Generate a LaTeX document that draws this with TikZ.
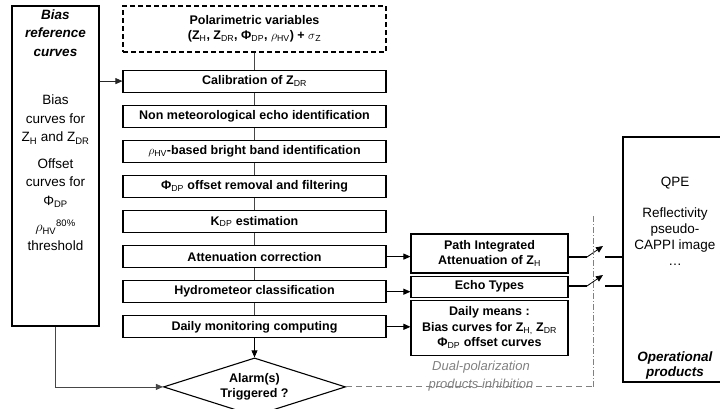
\documentclass[tikz,border=0pt]{standalone}
\usepackage{fontspec}
\setmainfont{Liberation Sans}
\usepackage{tikz}
\usetikzlibrary{positioning,calc,arrows.meta,shapes.geometric}
\tikzstyle{line} = [draw,line width=0.7pt,gray!55!black]
\tikzstyle{arrowline} = [draw,line width=0.8pt,-{Triangle[length=7pt,width=6pt]}]
\newcommand{\bfit}[1]{\textbf{\textit{#1}}}
\newcommand{\lsub}[1]{\textsubscript{\mdseries #1}}

\begin{document}
\begin{tikzpicture}[x=1pt,y=-1pt,node distance=12pt,
    txt/.style = {font=\fontsize{12.5}{15.5}\selectfont\bfseries},
    proc/.style = {draw, line width=1.1pt, minimum width=263pt, minimum height=22pt,
      inner sep=0pt, txt},
    outbox/.style = {draw, line width=1.1pt, minimum width=157pt, inner sep=0pt,
      align=center, txt},
    sidebox/.style = {draw, line width=1.1pt},
    sidetxt/.style = {align=center, inner sep=0pt, font=\fontsize{13.5}{18.5}\selectfont}]
  \useasboundingbox (0,0) rectangle (720,408);
  \node[proc, dash pattern=on 5pt off 3pt, minimum height=46pt, align=center] (polvar) at (254.5,29)
    {Polarimetric variables\\(Z\lsub{H}, Z\lsub{DR}, Φ\lsub{DP}, $\rho$\lsub{HV}) + $\sigma$\lsub{Z}};
  \node[proc] (calib) [below=17pt of polvar] {Calibration of Z\lsub{DR}};
  \node[proc] (nonmet) [below=of calib] {Non meteorological echo identification};
  \node[proc] (brightband) [below=of nonmet] {$\rho$\lsub{HV}-based bright band identification};
  \node[proc] (phidp) [below=of brightband] {Φ\lsub{DP} offset removal and filtering};
  \node[proc] (kdp) [below=of phidp] {K\lsub{DP} estimation};
  \node[proc] (atten) [below=of kdp] {Attenuation correction};
  \node[proc] (hydro) [below=of atten] {Hydrometeor classification};
  \node[proc] (monit) [below=of hydro] {Daily monitoring computing};
  \node[draw, diamond, aspect=3.14, minimum width=182pt, minimum height=58pt, inner sep=0pt,
    line width=1.1pt, align=center, txt] (alarm) [below=19pt of monit] {Alarm(s)\\Triggered ?};
  \path [line] (polvar) -- (calib);
  \path [line] (calib) -- (nonmet);
  \path [line] (nonmet) -- (brightband);
  \path [line] (brightband) -- (phidp);
  \path [line] (phidp) -- (kdp);
  \path [line] (kdp) -- (atten);
  \path [line] (atten) -- (hydro);
  \path [line] (hydro) -- (monit);
  \path [arrowline] (monit) -- (alarm);
  \node[sidebox, minimum width=87pt, minimum height=320pt] (biasref) at (55.5,166) {};
  \node[sidetxt] (biastxt) [below=4pt of biasref.north]
    {\bfit{Bias}\\\bfit{reference}\\\bfit{curves}\\[30pt]Bias\\curves for\\Z\textsubscript{H} and Z\textsubscript{DR}\\[8pt]
     Offset\\curves for\\Φ\textsubscript{DP}\\[8pt]$\rho$\textsubscript{HV}\textsuperscript{80\%}\\threshold};
  \path [arrowline, gray!30!black] (calib.west -| biasref.east) -- (calib.west);
  \path [arrowline, gray!55!black] (biasref.south) |- (alarm.west);
  \node[outbox, minimum height=39pt] (pia) at (489.5,253.5) {Path Integrated\\Attenuation of Z\lsub{H}};
  \node[outbox, minimum height=21pt] (echotypes) [below=2pt of pia] {Echo Types};
  \node[outbox, minimum height=55pt] (dailymeans) [below=2pt of echotypes]
    {Daily means :\\Bias curves for Z\lsub{H,} Z\lsub{DR}\\Φ\lsub{DP} offset curves};
  \path [arrowline] (atten.east) -- (atten.east -| pia.west);
  \path [arrowline] (hydro.east) -- (hydro.east -| echotypes.west);
  \path [arrowline] (monit.east) -- (monit.east -| dailymeans.west);
  \node[sidebox, minimum width=104pt, minimum height=245pt] (oper) at (675,259.5) {};
  \node[sidetxt, font=\fontsize{13.5}{16}\selectfont] (opertxt) [below=40pt of oper.north]
    {QPE\\[15pt]Reflectivity\\pseudo-\\CAPPI image\\\dots};
  \node[sidetxt, font=\fontsize{13.5}{15.5}\selectfont] (opername) [above=3pt of oper.south]
    {\bfit{Operational}\\\bfit{products}};
  \coordinate (swA1) at (587,257);
  \coordinate (swA2) at (603,246);
  \coordinate (swA3) at (605,257);
  \coordinate (swB1) at (587,286);
  \coordinate (swB2) at (603,275);
  \coordinate (swB3) at (605,286);
  \coordinate (inhib) at (593,215);
  \path [draw, line width=1.1pt] (pia.east |- swA1) -- (swA1);
  \path [arrowline] (swA1) -- (swA2);
  \path [draw, line width=1.1pt] (swA3) -- (swA3 -| oper.west);
  \path [draw, line width=1.1pt] (echotypes.east |- swB1) -- (swB1);
  \path [arrowline] (swB1) -- (swB2);
  \path [draw, line width=1.1pt] (swB3) -- (swB3 -| oper.west);
  \path [draw, gray, line width=1pt, dash pattern=on 6pt off 4pt] (alarm.east) -- (alarm.east -| inhib);
  \path [draw, gray, line width=1pt, dash pattern=on 6pt off 2pt on 1pt off 2pt] (alarm.east -| inhib) -- (inhib);
  \node[gray, align=center, font=\fontsize{13}{18}\selectfont\itshape] (inhibtxt) at (481,376)
    {Dual-polarization\\products inhibition};
\end{tikzpicture}
\end{document}
